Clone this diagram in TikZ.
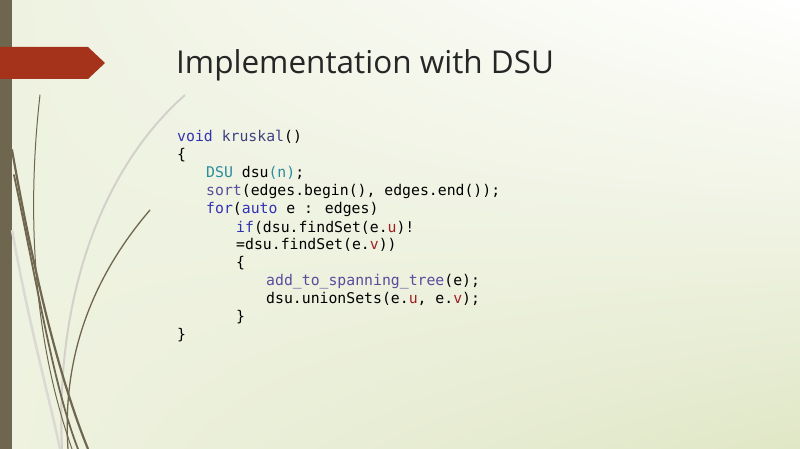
\documentclass[tikz,border=0pt]{standalone}
\usepackage{fontspec}
\usetikzlibrary{shadings}
\setmainfont{Open Sans}
\newfontfamily\codefont{DejaVu Sans Mono}
\definecolor{barbrown}{HTML}{6F6650}
\definecolor{arrowred}{HTML}{A5321A}
\definecolor{kwblue}{HTML}{3232B4}
\definecolor{tealc}{HTML}{2A8C9C}
\definecolor{purpc}{HTML}{5A4C9C}
\definecolor{redc}{HTML}{A02020}
\definecolor{fnc}{HTML}{404080}
\definecolor{bgmid}{HTML}{EEF2E0}
\definecolor{bgright}{HTML}{E0E7C6}
\tikzset{
  codeline/.style={anchor=base west,inner sep=0pt,font=\codefont\fontsize{14.8}{14.8}\selectfont},
  stem/.style={draw=barbrown,line cap=round}
}
\newcommand{\kw}[1]{\textcolor{kwblue}{#1}}
\newcommand{\tl}[1]{\textcolor{tealc}{#1}}
\newcommand{\pu}[1]{\textcolor{purpc}{#1}}
\newcommand{\rd}[1]{\textcolor{redc}{#1}}
\begin{document}
\begin{tikzpicture}[x=1pt,y=-1pt]
  \useasboundingbox (0,0) rectangle (800,449);
  % background
  \shade[upper left=bgmid,upper right=white,lower left=bgmid,lower right=bgright] (0,0) rectangle (800,449);
  \fill[barbrown] (0,0) rectangle (12,449);
  % grass stems
  \draw[barbrown!30,line width=2pt] (185,95) .. controls (100,170) and (55,300) .. (62,449);
  \draw[barbrown!25,line width=2.5pt] (12,230) .. controls (30,330) and (50,400) .. (60,449);
  \draw[stem,line width=2.2pt] (12,150) .. controls (35,280) and (60,380) .. (88,449);
  \draw[stem,line width=1.8pt] (14,175) .. controls (40,300) and (55,390) .. (78,449);
  \draw[stem,line width=1pt] (40,95) .. controls (28,200) and (30,330) .. (72,449);
  \draw[stem,line width=1.3pt] (150,210) .. controls (90,280) and (62,360) .. (68,449);
  % title arrow
  \fill[arrowred] (0,47) -- (88,47) -- (105,63) -- (88,79) -- (0,79) -- cycle;
  \node[anchor=base west,inner sep=0pt,font=\fontsize{31.5}{31.5}\selectfont,text=black!85] (title) at (176,74) {Implementation with DSU};
  % code
  \node[codeline] (l1) at (177,142) {\kw{void} \textcolor{fnc}{kruskal}()};
  \node[codeline] (l2) at (177,160) {\{};
  \node[codeline] (l3) at (206,178) {\tl{DSU} dsu\tl{(n)};};
  \node[codeline] (l4) at (206,196) {\pu{sort}(edges.begin(), edges.end());};
  \node[codeline] (l5) at (206,214) {\kw{for}(\kw{auto} e : edges)};
  \node[codeline] (l6) at (236,232) {\kw{if}(dsu.findSet(e.\rd{u})!};
  \node[codeline] (l7) at (236,249) {=dsu.findSet(e.\rd{v}))};
  \node[codeline] (l8) at (236,267) {\{};
  \node[codeline] (l9) at (266,285) {\pu{add\_to\_spanning\_tree}(e);};
  \node[codeline] (l10) at (266,303) {dsu.unionSets(e.\rd{u}, e.\rd{v});};
  \node[codeline] (l11) at (236,321) {\}};
  \node[codeline] (l12) at (177,339) {\}};
\end{tikzpicture}
\end{document}
